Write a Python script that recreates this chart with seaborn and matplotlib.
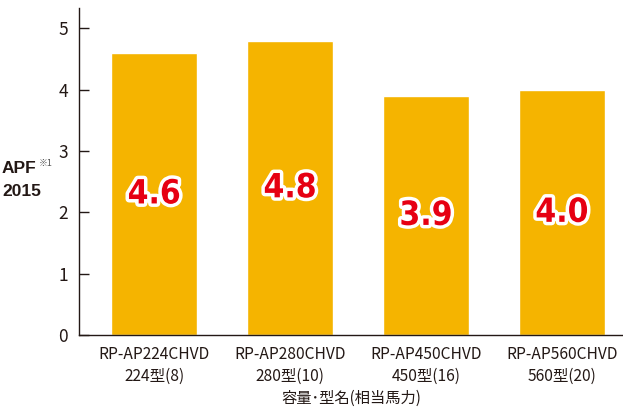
import matplotlib
matplotlib.use("Agg")
import matplotlib.pyplot as plt
import matplotlib.patheffects as pe
import seaborn as sns
import pandas as pd

models = ["RP-AP224CHVD", "RP-AP280CHVD", "RP-AP450CHVD", "RP-AP560CHVD"]
sizes = ["224型(8)", "280型(10)", "450型(16)", "560型(20)"]
apf = [4.6, 4.8, 3.9, 4.0]
y_ticks = [0, 1, 2, 3, 4, 5]

sns.set_style("white")
plt.rcParams["font.family"] = ["Noto Sans CJK JP", "DejaVu Sans"]

df = pd.DataFrame({"label": [m + "\n" + s for m, s in zip(models, sizes)], "apf": apf})

fig = plt.figure(figsize=(6.23, 4.09), dpi=100)
ax = fig.add_axes([0.127, 0.181, 0.873, 0.799])
sns.barplot(data=df, x="label", y="apf", color="#F5B400", saturation=1,
            width=0.63, ax=ax)

ax.set_xlim(-0.553, 3.45)
ax.set_ylim(0, 5.33)
ax.set_yticks(y_ticks)
ax.tick_params(axis="y", direction="in", length=7.2, width=1, color="#231815",
               labelsize=12.5, pad=8, left=True, labelcolor="#231815")
ax.tick_params(axis="x", length=0, labelsize=11.2, pad=8, labelcolor="#231815")
for lbl in ax.get_xticklabels():
    lbl.set_linespacing(1.4)
for s in ["top", "right"]:
    ax.spines[s].set_visible(False)
for s in ["left", "bottom"]:
    ax.spines[s].set_color("#231815")
    ax.spines[s].set_linewidth(1.0)
ax.set_xlabel("容量･型名(相当馬力)", fontsize=11, labelpad=3, color="#231815")
ax.set_ylabel("")

for i, v in enumerate(apf):
    ax.text(i, v / 2, f"{v:.1f}", ha="center", va="center", fontsize=24,
            fontweight="bold", fontstretch="condensed", color="#E60012",
            family="DejaVu Sans",
            path_effects=[pe.withStroke(linewidth=5, foreground="white")])

fig.text(2 / 623, 1 - 169 / 409, "APF", fontsize=12.5, fontweight="bold",
         color="#231815", family="Liberation Sans", va="center", ha="left")
fig.text(39 / 623, 1 - 163 / 409, "※1", fontsize=6.5, color="#555555",
         va="center", ha="left")
fig.text(2 / 623, 1 - 191 / 409, "2015", fontsize=12.5, fontweight="bold",
         color="#231815", family="Liberation Sans", va="center", ha="left")

fig.savefig("out.png", dpi=100)
